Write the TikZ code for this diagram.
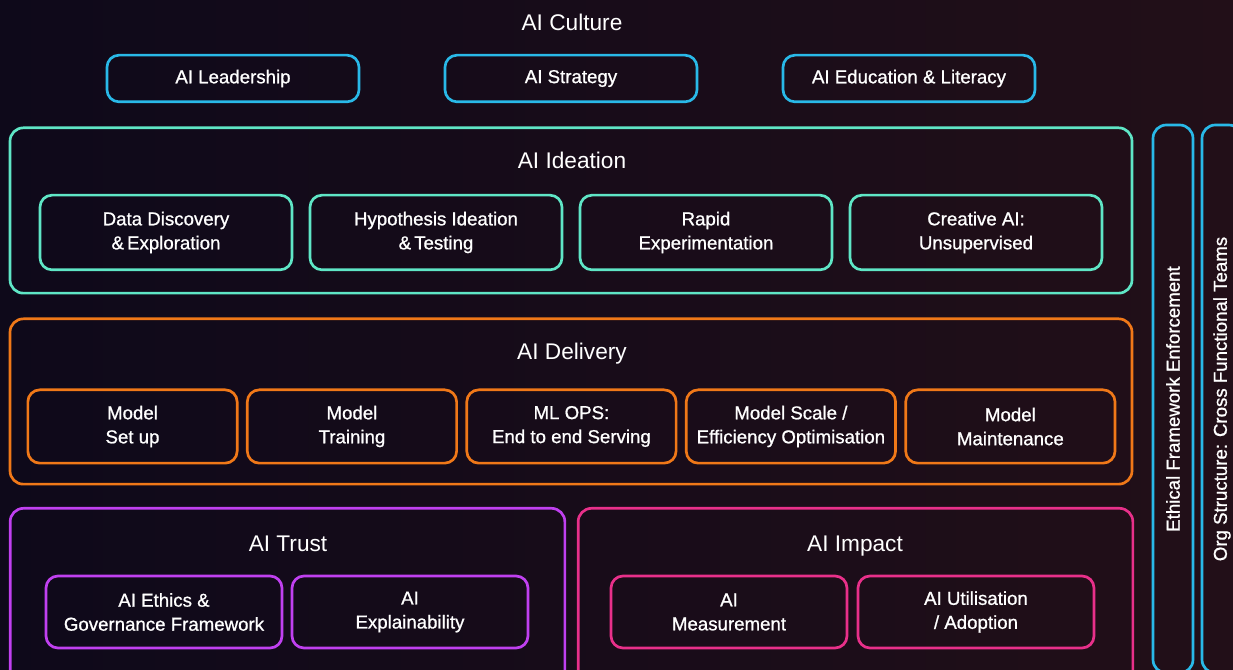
\documentclass[tikz,border=0pt]{standalone}
\usepackage{fontspec}
\setmainfont{Liberation Sans}
\newfontfamily\boxfont{Liberation Sans}[FakeBold=0.9]
\usetikzlibrary{positioning}

\definecolor{bgleft}{RGB}{14,9,26}
\definecolor{bgright}{RGB}{34,15,24}
\definecolor{culturecol}{RGB}{41,185,232}
\definecolor{ideacol}{RGB}{95,230,198}
\definecolor{delivcol}{RGB}{240,120,24}
\definecolor{trustcol}{RGB}{192,64,240}
\definecolor{impactcol}{RGB}{232,48,138}

\begin{document}
\begin{tikzpicture}[x=0.75pt,y=-0.75pt,
        outer box/.style={draw,rounded corners=10pt,line width=2pt,inner sep=0pt},
        inner box/.style={draw,rounded corners=9pt,line width=2pt,inner sep=0pt,
          text=white,align=center,font=\boxfont\fontsize{14}{18}\selectfont},
        title/.style={text=white,text height=12.2pt,text depth=0pt,font=\fontsize{17}{20}\selectfont},
        side bar/.style={draw=culturecol,rounded corners=10pt,line width=2pt,inner sep=0pt,
          rotate=90,minimum width=411pt,minimum height=30pt,
          text=white,font=\boxfont\fontsize{14}{18}\selectfont}]

    \useasboundingbox (0,0) rectangle (1233,670);
    \clip (0,0) rectangle (1233,670);
    \shade[left color=bgleft,right color=bgright] (0,0) rectangle (1233,670);

    % culture row
    \node[title] (culture) at (572,22) {AI Culture};
    \node[inner box,draw=culturecol,minimum width=189pt,minimum height=35pt] (leader) at (233,78.5) {AI Leadership};
    \node[inner box,draw=culturecol,minimum width=189pt,minimum height=35pt,right=62.5pt of leader] (strategy) {AI Strategy};
    \node[inner box,draw=culturecol,minimum width=189pt,minimum height=35pt,right=62.5pt of strategy] (literacy) {AI Education \& Literacy};

    % ideation
    \node[outer box,draw=ideacol,minimum width=841.5pt,minimum height=124pt] (ideation) at (571,210.5) {};
    \node[title] (ideatitle) at (572,160) {AI Ideation};
    \node[inner box,draw=ideacol,minimum width=189pt,minimum height=56pt] (discovery) at (166,232.5) {Data Discovery\\\&\,Exploration};
    \node[inner box,draw=ideacol,minimum width=189pt,minimum height=56pt,right=11.5pt of discovery] (hypo) {Hypothesis Ideation\\\&\,Testing};
    \node[inner box,draw=ideacol,minimum width=189pt,minimum height=56pt,right=11.5pt of hypo] (rapid) {Rapid\\Experimentation};
    \node[inner box,draw=ideacol,minimum width=189pt,minimum height=56pt,right=11.5pt of rapid] (creative) {Creative AI:\\Unsupervised};

    % delivery
    \node[outer box,draw=delivcol,minimum width=841.5pt,minimum height=124pt] (delivery) at (571,401.5) {};
    \node[title] (delivtitle) at (572,351) {AI Delivery};
    \node[inner box,draw=delivcol,minimum width=157pt,minimum height=55pt] (setup) at (132.5,426.5) {Model\\Set up};
    \node[inner box,draw=delivcol,minimum width=157pt,minimum height=55pt,right=5.6pt of setup] (training) {Model\\Training};
    \node[inner box,draw=delivcol,minimum width=157pt,minimum height=55pt,right=5.6pt of training] (mlops) {ML OPS:\\End to end Serving};
    \node[inner box,draw=delivcol,minimum width=157pt,minimum height=55pt,right=5.6pt of mlops] (scale) {Model Scale /\\Efficiency Optimisation};
    \node[inner box,draw=delivcol,minimum width=157pt,minimum height=55pt,right=5.6pt of scale] (maint) {Model\\Maintenance};

    % trust
    \node[outer box,draw=trustcol,minimum width=416pt,minimum height=136pt] (trust) at (287.5,599) {};
    \node[title] (trusttitle) at (288,543) {AI Trust};
    \node[inner box,draw=trustcol,minimum width=177pt,minimum height=54pt] (ethics) at (164,612) {AI Ethics \&\\Governance Framework};
    \node[inner box,draw=trustcol,minimum width=177pt,minimum height=54pt,right=5.5pt of ethics] (explain) {AI\\Explainability};

    % impact
    \node[outer box,draw=impactcol,minimum width=416pt,minimum height=136pt] (impact) at (855.5,599) {};
    \node[title] (impacttitle) at (855,543) {AI Impact};
    \node[inner box,draw=impactcol,minimum width=177pt,minimum height=54pt] (measure) at (729,612) {AI\\Measurement};
    \node[inner box,draw=impactcol,minimum width=177pt,minimum height=54pt,right=6.25pt of measure] (adopt) {AI Utilisation\\/ Adoption};

    % side bars
    \node[side bar] (ethicbar) at (1173,399) {Ethical Framework Enforcement};
    \node[side bar] (orgbar) at (1222,399) {Org Structure: Cross Functional Teams};

\end{tikzpicture}
\end{document}
